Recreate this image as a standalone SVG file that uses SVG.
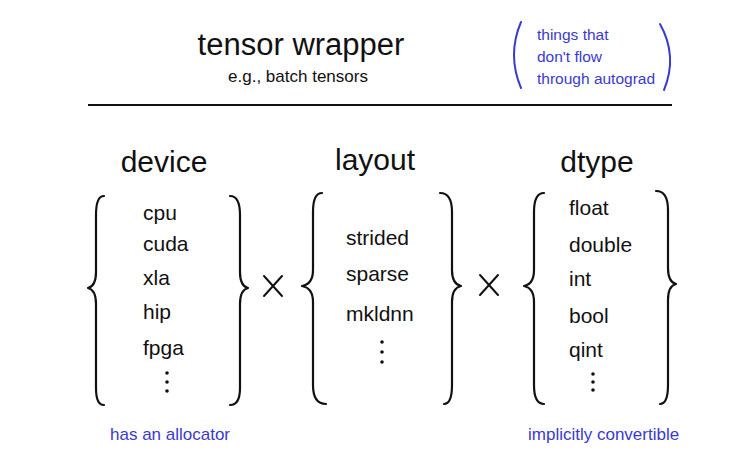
<svg xmlns="http://www.w3.org/2000/svg" width="748" height="471" viewBox="0 0 748 471">
<style>
.t{font-family:"Liberation Sans",Arial,sans-serif;fill:#111}
.b{font-family:"Liberation Sans",Arial,sans-serif;fill:#3a3ad0}
.brace{fill:none;stroke:#111;stroke-width:2.2;stroke-linecap:round;stroke-linejoin:round}
.bp{fill:none;stroke:#3a3ad0;stroke-width:2;stroke-linecap:round}
.item{font-size:21px}
.dots{fill:#111}
</style>
<rect width="748" height="471" fill="#fff"/>
<g id="header">
<text class="t" x="301" y="55" font-size="31" text-anchor="middle">tensor wrapper</text>
<text class="t" x="298" y="82" font-size="17" text-anchor="middle">e.g., batch tensors</text>
</g>
<g id="note">
<path class="bp" d="M521,22 Q507,55 521,88"/>
<path class="bp" d="M660,24 Q678,56 664,90"/>
<text class="b" x="537" y="40" font-size="15.5">things that</text>
<text class="b" x="537" y="62" font-size="15.5">don't flow</text>
<text class="b" x="537" y="84" font-size="15.5">through autograd</text>
</g>
<g id="divider">
<line x1="88" y1="105" x2="672" y2="105" stroke="#111" stroke-width="2"/>
</g>
<g id="device">
<text class="t" x="164" y="172" font-size="30" text-anchor="middle">device</text>
<path class="brace" d="M104,196 Q96,196 96,215 L96,272 Q96,286 88,288 Q96,290 96,304 L96,388 Q96,405 104,405"/>
<path class="brace" d="M230,196 Q240,196 240,215 L240,272 Q240,286 248,288 Q240,290 240,304 L240,388 Q240,405 230,405"/>
<text class="t item" x="143" y="220">cpu</text>
<text class="t item" x="143" y="251">cuda</text>
<text class="t item" x="143" y="285">xla</text>
<text class="t item" x="143" y="319">hip</text>
<text class="t item" x="143" y="355">fpga</text>
<circle class="dots" cx="167" cy="373" r="1.8"/><circle class="dots" cx="167" cy="382" r="1.8"/><circle class="dots" cx="167" cy="391" r="1.8"/>
<text class="b" x="110" y="440" font-size="17">has an allocator</text>
</g>
<g id="layout">
<text class="t" x="375" y="170" font-size="30" text-anchor="middle">layout</text>
<path class="brace" d="M322,193 Q313,193 313,212 L313,270 Q313,284 302,286 Q313,288 313,302 L313,385 Q313,404 326,404"/>
<path class="brace" d="M440,193 Q452,193 452,212 L452,270 Q452,284 461,286 Q452,288 452,302 L452,385 Q452,404 444,404"/>
<text class="t item" x="346" y="245">strided</text>
<text class="t item" x="346" y="281">sparse</text>
<text class="t item" x="346" y="321">mkldnn</text>
<circle class="dots" cx="382" cy="342" r="1.8"/><circle class="dots" cx="382" cy="352" r="1.8"/><circle class="dots" cx="382" cy="362" r="1.8"/>
</g>
<g id="dtype">
<text class="t" x="597" y="172" font-size="30" text-anchor="middle">dtype</text>
<path class="brace" d="M544,193 Q534,193 534,212 L534,270 Q534,284 524,286 Q534,288 534,302 L534,385 Q534,404 544,404"/>
<path class="brace" d="M656,191 Q668,191 668,210 L668,268 Q668,282 676,284 Q668,286 668,300 L668,385 Q668,404 660,404"/>
<text class="t item" x="569" y="215">float</text>
<text class="t item" x="569" y="252">double</text>
<text class="t item" x="569" y="286">int</text>
<text class="t item" x="569" y="323">bool</text>
<text class="t item" x="569" y="357">qint</text>
<circle class="dots" cx="593" cy="374" r="1.8"/><circle class="dots" cx="593" cy="382" r="1.8"/><circle class="dots" cx="593" cy="390" r="1.8"/>
<text class="b" x="528" y="440" font-size="17">implicitly convertible</text>
</g>
<g id="connectors">
<path d="M264,276 L282,296 M282,276 L264,296" stroke="#111" stroke-width="2" stroke-linecap="round"/>
<path d="M480,275 L498,295 M498,275 L480,295" stroke="#111" stroke-width="2" stroke-linecap="round"/>
</g>
</svg>
